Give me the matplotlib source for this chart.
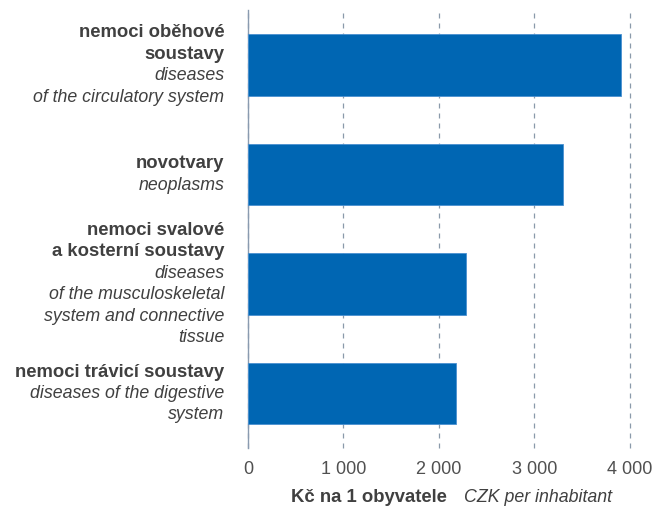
import matplotlib.pyplot as plt
import matplotlib.transforms as mtransforms

plt.rcParams['font.family'] = ['Liberation Sans', 'DejaVu Sans']

labels_cz = ['nemoci oběhové\nsoustavy', 'novotvary', 'nemoci svalové\na kosterní soustavy',
             'nemoci trávicí soustavy']
labels_en = ['diseases\nof the circulatory system', 'neoplasms',
             'diseases\nof the musculoskeletal\nsystem and connective\ntissue',
             'diseases of the digestive\nsystem']
values = [3905, 3300, 2285, 2180]
xticks = [0, 1000, 2000, 3000, 4000]
xtick_labels = ['0', '1 000', '2 000', '3 000', '4 000']

bar_color = '#0066b3'
text_color = '#404040'

fig = plt.figure(figsize=(6.56, 5.11), dpi=100)
ax = fig.add_axes([0.378, 0.123, 0.582, 0.857])

pos = list(range(len(values)))
ax.barh(pos, values, height=0.56, color=bar_color, edgecolor='#4a90d0', linewidth=0.6, zorder=3)
ax.set_ylim(len(values) - 0.5, -0.5)
ax.set_xlim(0, 4000)

ax.set_xticks(xticks)
ax.set_xticklabels(xtick_labels, fontsize=13, color='#505050')
ax.tick_params(axis='x', length=0, pad=9)
ax.set_yticks([])
ax.xaxis.grid(True, linestyle=(0, (4, 4)), color='#8a9aaa', linewidth=0.9, zorder=0)
for gl in ax.get_xgridlines():
    gl.set_clip_on(False)

for s in ['top', 'right', 'bottom']:
    ax.spines[s].set_visible(False)
ax.spines['left'].set_color('#8a9bb0')
ax.spines['left'].set_linewidth(1.0)

# category labels: bold Czech + italic English, stacked lines
trans = mtransforms.blended_transform_factory(ax.transAxes, ax.transData)
line_h = 15.4
for i in pos:
    lines = [(t, 'bold', 'normal', 13.3) for t in labels_cz[i].split('\n')]
    lines += [(t, 'normal', 'italic', 12.8) for t in labels_en[i].split('\n')]
    n = len(lines)
    for j, (t, w, st, fs) in enumerate(lines):
        off = ((n - 1) / 2 - j) * line_h
        ax.annotate(t, xy=(0, i), xycoords=trans, xytext=(-17, off), textcoords='offset points',
                    ha='right', va='center', fontsize=fs, fontweight=w, fontstyle=st,
                    color=text_color, annotation_clip=False)

fig.text(0.681, 0.027, 'Kč na 1 obyvatele', ha='right', va='center', fontsize=13.3,
         fontweight='bold', color=text_color)
fig.text(0.707, 0.027, 'CZK per inhabitant', ha='left', va='center', fontsize=12.8,
         fontstyle='italic', color=text_color)

fig.savefig('out.png', dpi=100)
